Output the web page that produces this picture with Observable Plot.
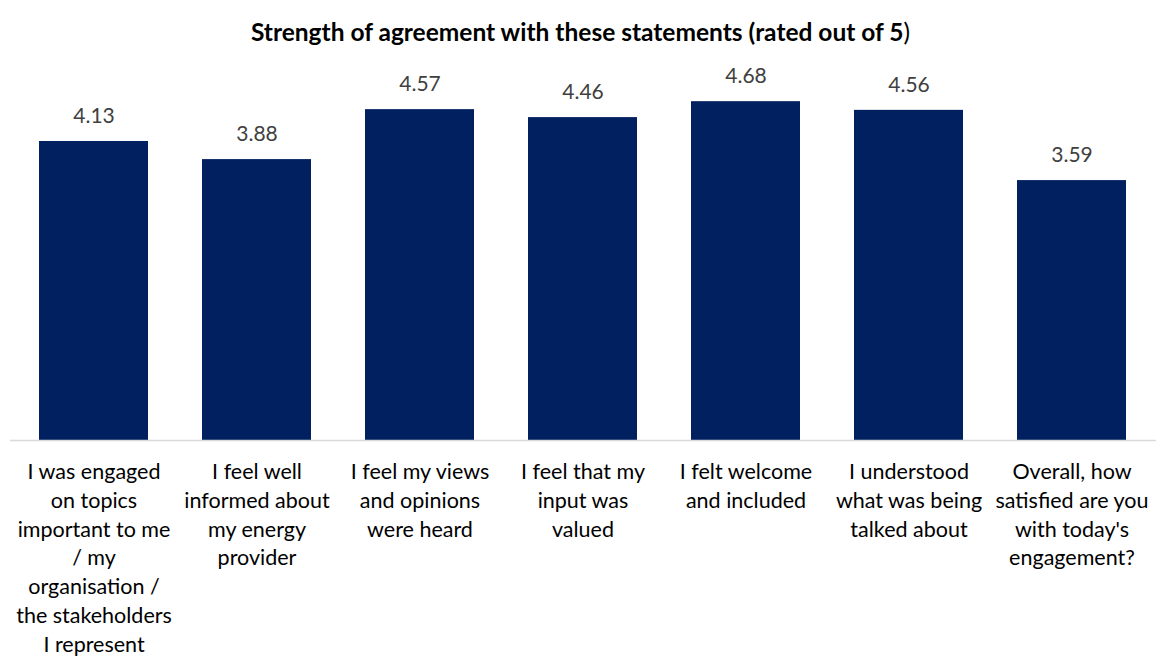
<!DOCTYPE html>
<html>
<head>
<meta charset="utf-8">
<script src="https://cdn.jsdelivr.net/npm/d3@7"></script>
<script src="https://cdn.jsdelivr.net/npm/@observablehq/plot@0.6"></script>
<style>
  html, body { margin: 0; padding: 0; background: #fff; }
  body { width: 1157px; height: 658px; overflow: hidden; font-family: Lato, "Open Sans", sans-serif; }
  #title { height: 60px; box-sizing: border-box; padding-top: 17px; text-align: center; font-size: 24.5px; line-height: 30px; color: #000; padding-left: 4px; }
  #title b { font-weight: 700; }
</style>
</head>
<body>
<div id="title"><b>Strength of agreement with these statements (rated out of 5</b>)</div>
<div id="chart"></div>
<script>
const statements = [
  "I was engaged\non topics\nimportant to me\n/ my\norganisation /\nthe stakeholders\nI represent",
  "I feel well\ninformed about\nmy energy\nprovider",
  "I feel my views\nand opinions\nwere heard",
  "I feel that my\ninput was\nvalued",
  "I felt welcome\nand included",
  "I understood\nwhat was being\ntalked about",
  "Overall, how\nsatisfied are you\nwith today's\nengagement?"
];
const scores = [4.13, 3.88, 4.57, 4.46, 4.68, 4.56, 3.59];
const data = statements.map((s, i) => ({statement: s, score: scores[i]}));

const chart = Plot.plot({
  width: 1157,
  height: 598,
  marginLeft: 10,
  marginRight: 1,
  marginTop: 18,
  marginBottom: 218,
  style: {fontFamily: "Lato, 'Open Sans', sans-serif", background: "#fff"},
  x: {domain: statements, paddingInner: 0.33, paddingOuter: 0.165, label: null},
  y: {domain: [0, 5], axis: null},
  marks: [
    Plot.barY(data, {x: "statement", y: "score", fill: "#002060"}),
    Plot.ruleY([0], {stroke: "#d9d9d9", strokeWidth: 1.5}),
    Plot.text(data, {x: "statement", y: "score", text: d => d.score.toFixed(2), dy: -25, fontSize: 21, fill: "#404040"}),
    Plot.axisX({tickSize: 0, tickPadding: 18, fontSize: 21.5, lineHeight: 1.34, fill: "#000", label: null, textOverflow: null})
  ]
});
document.getElementById("chart").appendChild(chart);
</script>
</body>
</html>
